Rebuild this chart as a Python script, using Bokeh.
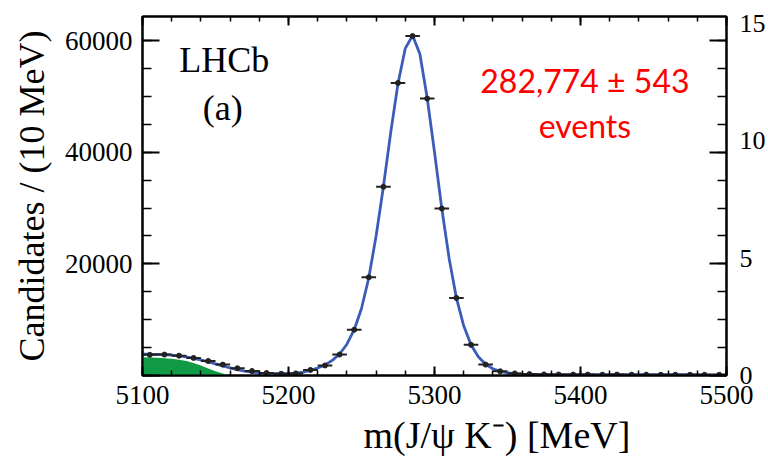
from bokeh.plotting import figure
from bokeh.models import Range1d, FixedTicker, LinearAxis, Label, ColumnDataSource, Title
from bokeh.embed import file_html
from bokeh.resources import INLINE

# ---- data ----
bin_centers = [5105, 5115, 5125, 5135, 5145, 5155, 5165, 5175, 5185, 5195,
               5205, 5215, 5225, 5235, 5245, 5255, 5265, 5275, 5285, 5295,
               5305, 5315, 5325, 5335, 5345, 5355, 5365, 5375, 5385, 5395,
               5405, 5415, 5425, 5435, 5445, 5455, 5465, 5475, 5485, 5495]
counts = [3700, 3750, 3550, 3150, 2600, 1950, 1300, 800, 450, 320,
          380, 1000, 1800, 3750, 8200, 17600, 33800, 52400, 60800, 49600,
          29900, 13900, 5500, 1950, 750, 380, 250, 200, 180, 170,
          160, 150, 160, 140, 150, 130, 140, 130, 120, 130]

fit_x = [5100, 5105, 5110, 5115, 5120, 5125, 5130, 5135, 5140, 5145,
         5150, 5155, 5160, 5165, 5170, 5175, 5180, 5185, 5190, 5195,
         5200, 5205, 5210, 5215, 5220, 5225, 5230, 5235, 5240, 5245,
         5250, 5255, 5260, 5265, 5270, 5275, 5280, 5285, 5290, 5295,
         5300, 5305, 5310, 5315, 5320, 5325, 5330, 5335, 5340, 5345,
         5350, 5355, 5360, 5365, 5370, 5375, 5380, 5385, 5390, 5395,
         5400, 5410, 5420, 5430, 5440, 5450, 5460, 5470, 5480, 5490, 5500]
fit_y = [3850, 3800, 3780, 3740, 3650, 3520, 3330, 3080, 2780, 2440,
         2080, 1720, 1380, 1070, 800, 590, 440, 350, 310, 310,
         350, 440, 620, 920, 1330, 1900, 2700, 3850, 5600, 8200,
         12000, 17500, 25000, 33800, 43500, 52300, 58600, 60900, 57600, 49700,
         40000, 29900, 21000, 13900, 8900, 5500, 3350, 2000, 1200, 750,
         490, 340, 260, 215, 190, 180, 170, 165, 160, 158,
         155, 150, 146, 142, 138, 136, 134, 132, 130, 128, 126]

bkg_x = [5100, 5105, 5110, 5115, 5120, 5125, 5130, 5135, 5140, 5145,
         5150, 5155, 5160, 5165]
bkg_y = [3250, 3230, 3180, 3100, 2990, 2830, 2580, 2220, 1770, 1260,
         760, 340, 60, 0]

x_ticks = [5100, 5200, 5300, 5400, 5500]
y_ticks = [0, 20000, 40000, 60000]
y_tick_labels = ["", "20000", "40000", "60000"]

# neighbouring panel's axis labels, cut by the picture edge
frag_ticks = [0, 5000, 10000, 15000]
frag_labels = ["0", "5", "10", "15"]

SERIF = "Liberation Serif"
HALF_BIN = 5

p = figure(width=768, height=461,
           min_border_left=142, min_border_right=40,
           min_border_top=16, min_border_bottom=84,
           x_range=Range1d(5100, 5500), y_range=Range1d(0, 64300),
           output_backend="svg", toolbar_location=None)
p.extra_y_ranges = {"frag": Range1d(0, 15300)}
p.xgrid.visible = False
p.ygrid.visible = False
p.outline_line_color = "black"
p.outline_line_width = 2
p.background_fill_color = "white"
p.border_fill_color = "white"

x_minor = list(range(5100, 5501, 20))
y_minor = list(range(0, 64001, 5000))

# bottom axis
xa = p.xaxis[0]
xa.ticker = FixedTicker(ticks=x_ticks, minor_ticks=x_minor)
xa.major_label_text_font = SERIF
xa.major_label_text_font_size = "27px"
xa.major_label_text_color = "black"
xa.major_label_standoff = 10
xa.major_tick_in = 9
xa.major_tick_out = 0
xa.minor_tick_in = 5
xa.minor_tick_out = 0
xa.axis_line_width = 2
xa.major_tick_line_width = 2
xa.minor_tick_line_width = 1.5

# left axis
ya = p.yaxis[0]
ya.ticker = FixedTicker(ticks=y_ticks, minor_ticks=y_minor)
ya.major_label_overrides = {t: s for t, s in zip(y_ticks, y_tick_labels)}
ya.major_label_text_font = SERIF
ya.major_label_text_font_size = "27px"
ya.major_label_text_color = "black"
ya.major_label_standoff = 10
ya.major_tick_in = 17
ya.major_tick_out = 0
ya.minor_tick_in = 9
ya.minor_tick_out = 0
ya.axis_line_width = 2
ya.major_tick_line_width = 2
ya.minor_tick_line_width = 1.5
ya.axis_label = "Candidates / (10 MeV)"
ya.axis_label_text_font = SERIF
ya.axis_label_text_font_size = "36px"
ya.axis_label_text_font_style = "normal"
ya.axis_label_text_color = "black"
ya.axis_label_standoff = 10

# mirrored top / right ticks (no labels)
top = LinearAxis(ticker=FixedTicker(ticks=x_ticks, minor_ticks=x_minor),
                 major_label_overrides={t: "" for t in x_ticks},
                 major_label_text_font_size="8px", major_label_standoff=0,
                 major_tick_in=9, major_tick_out=0, minor_tick_in=5, minor_tick_out=0,
                 axis_line_width=2, major_tick_line_width=2, minor_tick_line_width=1.5)
p.add_layout(top, "above")
right = LinearAxis(ticker=FixedTicker(ticks=y_ticks, minor_ticks=y_minor),
                   major_label_overrides={t: "" for t in y_ticks},
                   major_label_text_font_size="8px", major_label_standoff=0,
                   major_tick_in=17, major_tick_out=0, minor_tick_in=9, minor_tick_out=0,
                   axis_line_width=2, major_tick_line_width=2, minor_tick_line_width=1.5)
p.add_layout(right, "right")

frag = LinearAxis(y_range_name="frag", ticker=FixedTicker(ticks=frag_ticks, minor_ticks=[]),
                  major_label_overrides={t: s for t, s in zip(frag_ticks, frag_labels)},
                  major_label_text_font=SERIF, major_label_text_font_size="26px",
                  major_label_text_color="black", major_label_standoff=13,
                  axis_line_color=None, major_tick_line_color=None,
                  minor_tick_line_color=None, major_tick_in=0, major_tick_out=0)
p.add_layout(frag, "right")

# background component (green)
p.varea(x=bkg_x, y1=[0] * len(bkg_x), y2=bkg_y, fill_color="#109a45")

# fit curve
p.line(fit_x, fit_y, line_color="#3b5cb8", line_width=2.8)

# data points with bin-width bars
src = ColumnDataSource(dict(
    x=bin_centers, y=counts,
    x0=[c - HALF_BIN for c in bin_centers],
    x1=[c + HALF_BIN for c in bin_centers]))
p.segment(x0="x0", y0="y", x1="x1", y1="y", source=src,
          line_color="#222222", line_width=2)
p.scatter(x="x", y="y", source=src, size=5, marker="circle",
          fill_color="#222222", line_color="#222222")

# texts inside the frame
def add_label(x, y, text, font, size, color="black", align="center", baseline="middle"):
    p.add_layout(Label(x=x, y=y, text=text, text_font=font, text_font_size=size,
                       text_color=color, text_align=align, text_baseline=baseline))

add_label(5403, 52800, "282,774 \u00b1 543", "Lato", "32px", color="red", baseline="alphabetic")
add_label(5403, 44800, "events", "Lato", "32px", color="red", baseline="alphabetic")
add_label(5156, 56500, "LHCb", SERIF, "36px")
add_label(5155, 48000, "(a)", SERIF, "36px")

# x-axis title, placed like the reference (right of centre)
p.add_layout(Title(text="m(J/\u03c8 K\u207b) [MeV]", align="left", offset=221,
                   text_font=SERIF, text_font_size="38px", text_font_style="normal",
                   text_color="black", standoff=11), "below")

open("out.html", "w").write(file_html(p, INLINE))
